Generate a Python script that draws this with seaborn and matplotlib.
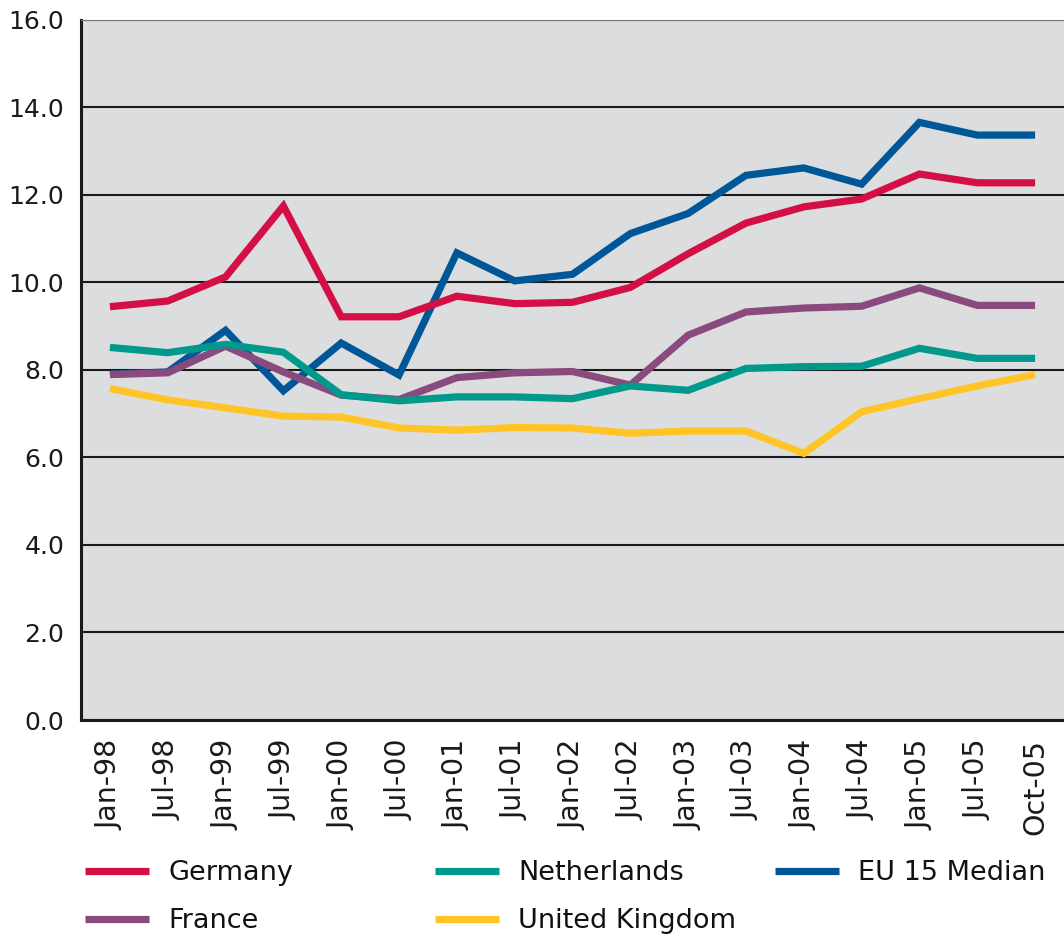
import matplotlib
matplotlib.use("Agg")
import matplotlib.pyplot as plt
import seaborn as sns
import pandas as pd
import numpy as np

categories = ["Jan-98", "Jul-98", "Jan-99", "Jul-99", "Jan-00", "Jul-00", "Jan-01",
              "Jul-01", "Jan-02", "Jul-02", "Jan-03", "Jul-03", "Jan-04", "Jul-04",
              "Jan-05", "Jul-05", "Oct-05"]

germany = [9.44, 9.57, 10.12, 11.74, 9.21, 9.21, 9.68, 9.51, 9.54, 9.88, 10.65,
           11.35, 11.72, 11.90, 12.47, 12.27, 12.27]
eu15_median = [7.90, 7.95, 8.90, 7.52, 8.61, 7.88, 10.67, 10.03, 10.18, 11.11, 11.57,
               12.44, 12.61, 12.24, 13.65, 13.36, 13.36]
netherlands = [8.51, 8.39, 8.58, 8.40, 7.43, 7.29, 7.38, 7.38, 7.34, 7.63, 7.53,
               8.03, 8.07, 8.08, 8.49, 8.26, 8.26]
france = [7.89, 7.93, 8.54, 7.95, 7.42, 7.32, 7.82, 7.93, 7.96, 7.65, 8.79,
          9.32, 9.41, 9.45, 9.87, 9.47, 9.47]
united_kingdom = [7.57, 7.31, 7.13, 6.94, 6.92, 6.67, 6.62, 6.68, 6.67, 6.55, 6.60,
                  6.60, 6.09, 7.04, 7.34, 7.63, 7.89]

series = {
    "EU 15 Median": eu15_median,
    "Germany": germany,
    "France": france,
    "Netherlands": netherlands,
    "United Kingdom": united_kingdom,
}
colors = {
    "Germany": "#D40F45",
    "France": "#8B4A7D",
    "Netherlands": "#00998C",
    "United Kingdom": "#FFC527",
    "EU 15 Median": "#005798",
}

rows = []
for name, vals in series.items():
    for i, v in enumerate(vals):
        rows.append({"series": name, "pos": i + 0.5, "value": v})
df = pd.DataFrame(rows)

sns.set_theme(style="white")
plt.rcParams["font.family"] = ["DejaVu Sans"]

fig = plt.figure(figsize=(10.64, 9.41), dpi=100)
ax = fig.add_axes([81 / 1064, 1 - 720 / 941, 1 - 81 / 1064, (720 - 19.5) / 941])
ax.set_facecolor("#DCDDDF")

for name in series:
    sns.lineplot(data=df[df["series"] == name], x="pos", y="value", color=colors[name],
                 linewidth=5.2, ax=ax, legend=False, label=name,
                 solid_capstyle="butt", solid_joinstyle="miter")

ax.set_xlim(0, 17)
ax.set_ylim(0, 16)
ax.set_yticks(np.arange(0, 16.1, 2))
ax.set_yticklabels([f"{v:.1f}" for v in np.arange(0, 16.1, 2)], fontsize=18)
ax.yaxis.grid(True, color="#1a1a1a", linewidth=1.5)
ax.set_axisbelow(True)
ax.tick_params(axis="y", length=0, pad=12, colors="#1a1a1a")

ax.set_xticks(np.arange(0, 18))
ax.set_xticklabels([])
ax.set_xticks(np.arange(len(categories)) + 0.5, minor=True)
ax.set_xticklabels(categories, minor=True, rotation=90, fontsize=20.5)
ax.tick_params(axis="x", which="major", length=12, width=1.8, color="#1a1a1a", direction="out")
ax.tick_params(axis="x", which="minor", length=0, pad=14, colors="#1a1a1a")
ax.set_xlabel("")
ax.set_ylabel("")

for s in ["left", "bottom"]:
    ax.spines[s].set_color("#1a1a1a")
    ax.spines[s].set_linewidth(2.2)
ax.spines["right"].set_visible(False)
ax.spines["top"].set_color("#777777")
ax.spines["top"].set_linewidth(0.8)

handles = {l.get_label(): l for l in ax.get_lines() if l.get_label() in series}
columns = [(["Germany", "France"], 85), (["Netherlands", "United Kingdom"], 435),
           (["EU 15 Median"], 775)]
for names, xpx in columns:
    leg = fig.legend([handles[n] for n in names], names, loc="upper left",
                     bbox_to_anchor=(xpx / 1064, 1 - 860 / 941), frameon=False,
                     fontsize=19.5, handlelength=2.37, handletextpad=0.7,
                     labelspacing=0.82, borderpad=0, borderaxespad=0)
    for t in leg.get_texts():
        t.set_color("#111111")

fig.savefig("out.png", dpi=100)
